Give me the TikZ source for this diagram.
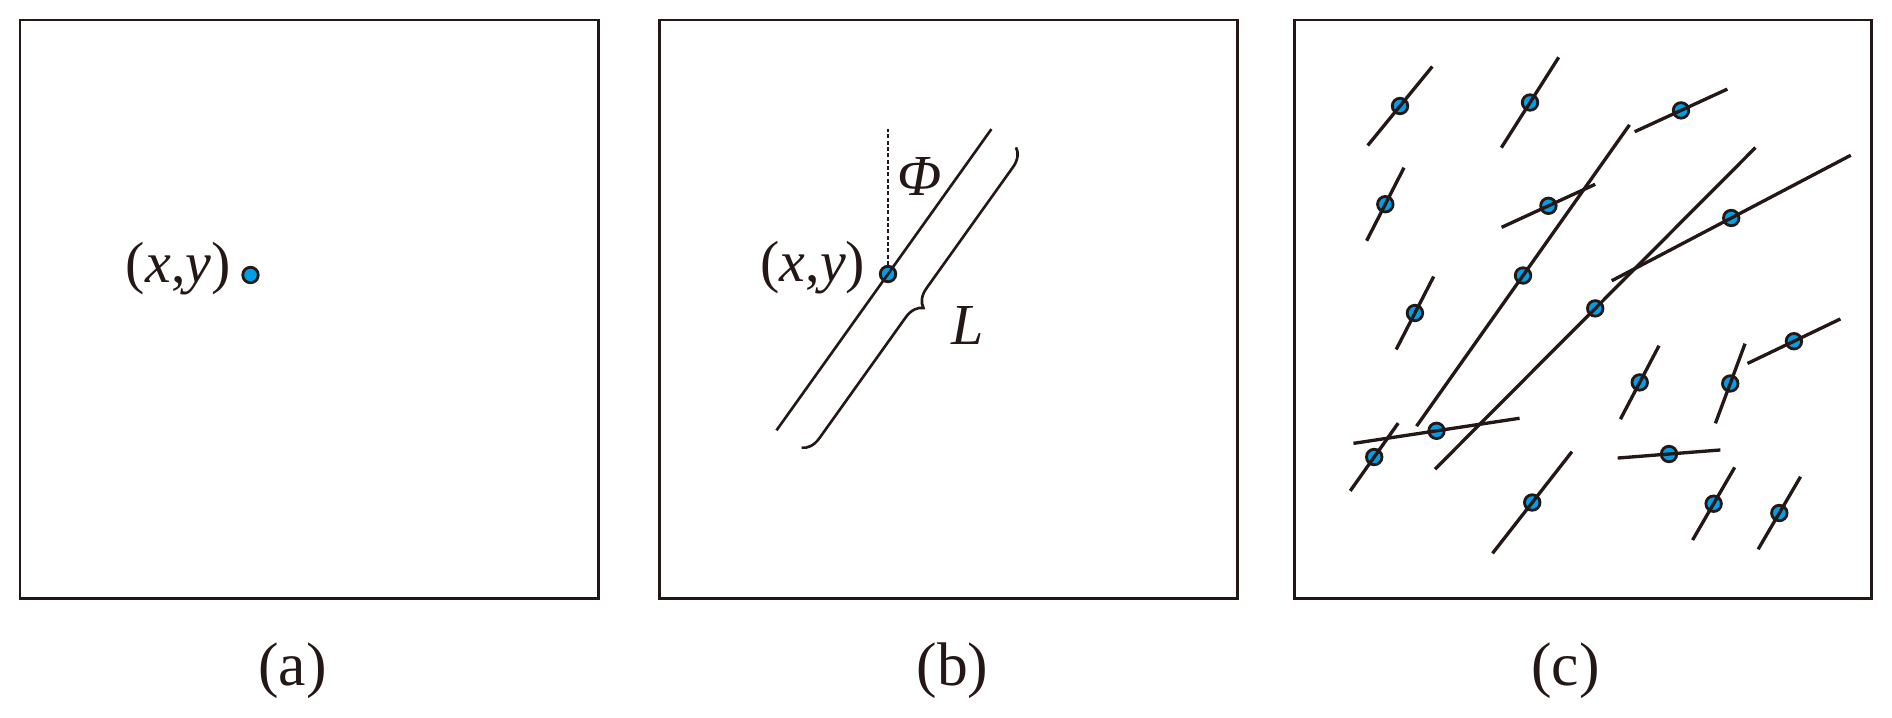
\documentclass[tikz,border=0pt]{standalone}
\usepackage{fontspec}
\setmainfont{Liberation Serif}
\usetikzlibrary{positioning, decorations.pathreplacing}
\definecolor{dotblue}{RGB}{0,160,233}
\definecolor{ink}{RGB}{35,24,21}

\begin{document}
\begin{tikzpicture}[x=0.01cm, y=0.01cm]
\tikzstyle{dot}=[circle, draw=ink, fill=dotblue, line width=0.8pt, minimum size=0.155cm, inner sep=0pt]
\tikzstyle{frame}=[draw=ink, line width=0.85pt]
\tikzstyle{seg}=[draw=ink, line width=0.95pt]
\tikzstyle{rod}=[draw=ink, line width=0.75pt]
\tikzstyle{guide}=[draw=ink, line width=0.55pt, dash pattern=on 1.1pt off 0.7pt]
\tikzstyle{brc}=[draw=ink, line width=0.75pt, decorate, decoration={brace, amplitude=0.18cm}]
\tikzstyle{lbl}=[inner sep=0pt, text=ink, font=\fontsize{16.5}{20}\selectfont]
\tikzstyle{captext}=[inner sep=0pt, text=ink, font=\fontsize{17.5}{21}\selectfont]
\useasboundingbox (0,0) rectangle (1892,717);

\draw[frame] (20,119) rectangle (598,697);
\draw[frame] (659,119) rectangle (1237,697);
\draw[frame] (1294,119) rectangle (1871,697);

\node[dot] (pa) at (250.5,442) {};
\node[lbl, left=0.1cm of pa, yshift=0.06cm] (la) {(\textit{x},\textit{y})};

\node[dot] (pb) at (888,443) {};
\coordinate (b1) at (776.5,286.7);
\coordinate (b2) at (991.4,587.9);
\coordinate (vtop) at (888,588);
\coordinate (c1) at (1016,569.6);
\coordinate (c2) at (801,268.6);
\draw[guide] (pb.north) -- (vtop);
\draw[rod] (b1) -- (b2);
\draw[brc] (c1) -- (c2);
\node[lbl, left=0.13cm of pb, yshift=0.06cm] (lb) {(\textit{x},\textit{y})};
\node[lbl] (phi) at (920,541) {\textit{Φ}};
\node[lbl] (len) at (968,391.5) {\textit{L}};

\def\seglist{1400/611/50.7/102, 1530/614.5/57.6/107, 1681/606.6/24.7/102,
  1523/441.5/54.75/369, 1548.4/511.2/24.7/103, 1385.3/512.8/62.9/82,
  1595.2/408.6/45.1/454, 1731.2/499/27.7/270, 1414.9/404/62.8/82,
  1639.7/334.6/62.3/83, 1730.2/333.5/69.6/85, 1793.9/375.8/25.6/103,
  1436.5/286.2/8.6/168, 1374.2/260/54.7/83, 1532.2/214.5/52/129,
  1669/263/4.5/103, 1713.6/213.3/59.9/84, 1779.3/204/59.7/84}
\foreach \x/\y/\a/\l [count=\i] in \seglist
  \node[dot] (s\i) at (\x,\y) {};
\foreach \x/\y/\a/\l [count=\i] in \seglist
  \draw[seg] (s\i.center) ++(\a:\l/2) -- ++(\a+180:\l);

\node[captext] (capa) at (292.5,46.5) {(a)};
\node[captext] (capb) at (952.5,46.5) {(b)};
\node[captext] (capc) at (1565.6,46.5) {(c)};

\end{tikzpicture}
\end{document}
